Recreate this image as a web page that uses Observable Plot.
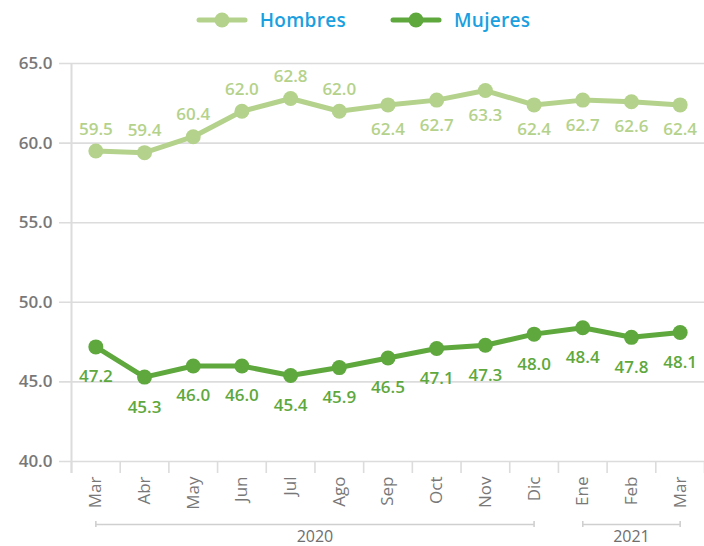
<!DOCTYPE html>
<html><head><meta charset="utf-8">
<script src="https://cdn.jsdelivr.net/npm/d3@7"></script>
<script src="https://cdn.jsdelivr.net/npm/@observablehq/plot@0.6"></script>
<style>
body{margin:0;background:#fff;font-family:"Open Sans",sans-serif;overflow:hidden;}
#legend{height:36px;display:flex;justify-content:center;align-items:center;padding-left:22px;padding-top:4px;box-sizing:border-box;}
.item{display:flex;align-items:center;margin:0 22px;}
.item span{color:#1a9fe0;font-size:19px;font-weight:600;margin-left:12px;letter-spacing:0.3px;}
#chart svg{display:block;}
</style></head><body>
<div id="legend"></div>
<div id="chart"></div>
<script>
const months = ["Mar","Abr","May","Jun","Jul","Ago","Sep","Oct","Nov","Dic","Ene","Feb","Mar"];
const hombres = [59.5,59.4,60.4,62.0,62.8,62.0,62.4,62.7,63.3,62.4,62.7,62.6,62.4];
const mujeres = [47.2,45.3,46.0,46.0,45.4,45.9,46.5,47.1,47.3,48.0,48.4,47.8,48.1];
const years = ["2020","2021"];
const yearFirstMonth = [0,10];
const yearLastMonth = [9,12];
const yTicks = [40,45,50,55,60,65];
const seriesNames = ["Hombres","Mujeres"];
const colors = ["#b4d28b","#5ea83e"];

const rows = [];
hombres.forEach((v,i)=>rows.push({i, serie:"Hombres", value:v}));
mujeres.forEach((v,i)=>rows.push({i, serie:"Mujeres", value:v}));
const H = rows.filter(d=>d.serie==="Hombres");
const M = rows.filter(d=>d.serie==="Mujeres");
const yearRows = years.map((y,k)=>({year:y, a:yearFirstMonth[k], b:yearLastMonth[k]}));
const yearEnds = yearRows.flatMap(d=>[{x:d.a},{x:d.b}]);
const boundaries = d3.range(months.length+1).map(k=>k-0.5);

// legend
const lg = document.getElementById("legend");
seriesNames.forEach((name,k)=>{
  const it = document.createElement("div"); it.className="item";
  it.innerHTML = `<svg width="52" height="18"><line x1="3" x2="49" y1="9" y2="9" stroke="${colors[k]}" stroke-width="5" stroke-linecap="round"/><circle cx="26" cy="9" r="7.5" fill="${colors[k]}"/></svg><span>${name}</span>`;
  lg.appendChild(it);
});

const grey = "#dcdcdc";
const txt = "#787878";
const chart = Plot.plot({
  width: 704, height: 510,
  marginLeft: 71, marginRight: 0, marginTop: 27, marginBottom: 85,
  style: {fontFamily: "Open Sans, sans-serif", background: "#fff", overflow: "visible"},
  x: {type: "linear", domain: [-0.5, months.length-0.5], axis: null},
  y: {domain: [40,65], axis: null},
  marks: [
    Plot.ruleY(yTicks, {stroke: grey, strokeWidth: 1.6, insetLeft: -12}),
    Plot.ruleX([-0.5], {stroke: grey, strokeWidth: 2, insetBottom: -12}),
    Plot.axisX({ticks: boundaries, tickSize: 12, tickFormat: () => "", stroke: grey, strokeWidth: 1.6, label: null}),
    Plot.axisX({ticks: d3.range(months.length), tickSize: 0, tickPadding: 15, tickRotate: -90,
      tickFormat: i => months[i], fontSize: 17, fontWeight: 500, fill: txt, stroke: null, label: null}),
    Plot.axisY({ticks: yTicks, tickSize: 0, tickPadding: 19, tickFormat: d3.format(".1f"),
      fontSize: 17, fontWeight: 600, fill: txt, label: null}),
    Plot.link(yearRows, {x1: "a", x2: "b", y1: 40, y2: 40, dy: 63, stroke: "#cfcfcf", strokeWidth: 1.6}),
    Plot.ruleX(yearEnds, {x: "x", y1: 40, y2: 40, dy: 63, insetTop: -3, insetBottom: -3, stroke: "#cfcfcf", strokeWidth: 1.6}),
    Plot.text(yearRows, {x: d => (d.a+d.b)/2, y: 40, dy: 75, text: "year", fontSize: 16, fontWeight: 500, fill: "#6e6e6e"}),
    Plot.line(H, {x: "i", y: "value", stroke: colors[0], strokeWidth: 5}),
    Plot.line(M, {x: "i", y: "value", stroke: colors[1], strokeWidth: 5}),
    Plot.dot(H, {x: "i", y: "value", r: 7.5, fill: colors[0]}),
    Plot.dot(M, {x: "i", y: "value", r: 7.5, fill: colors[1]}),
    Plot.text(H.filter(d=>d.i<6), {x: "i", y: "value", text: d=>d.value.toFixed(1), dy: -22, fontSize: 17, fontWeight: 600, fill: colors[0]}),
    Plot.text(H.filter(d=>d.i>=6), {x: "i", y: "value", text: d=>d.value.toFixed(1), dy: 25, fontSize: 17, fontWeight: 600, fill: colors[0]}),
    Plot.text(M, {x: "i", y: "value", text: d=>d.value.toFixed(1), dy: 30, fontSize: 17, fontWeight: 600, fill: colors[1]})
  ]
});
document.getElementById("chart").appendChild(chart);
</script>
</body></html>
